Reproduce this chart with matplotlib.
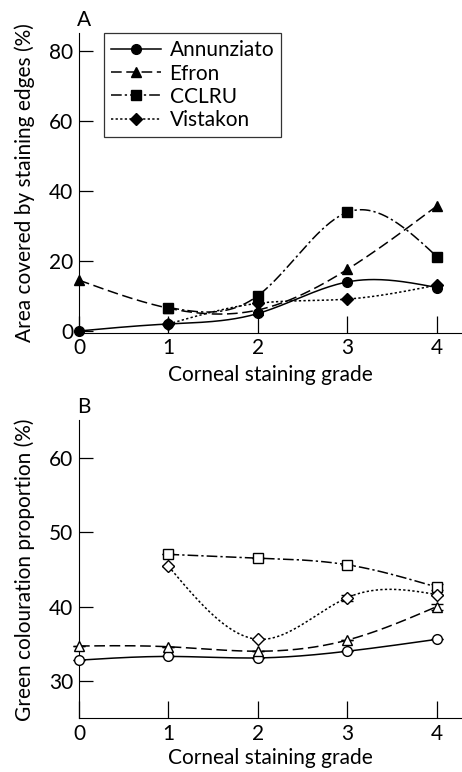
import matplotlib
matplotlib.use('Agg')
import matplotlib.pyplot as plt
import numpy as np

plt.rcParams['font.family'] = ['Lato', 'DejaVu Sans']

grades = [0, 1, 2, 3, 4]
series = ['Annunziato', 'Efron', 'CCLRU', 'Vistakon']

# panel A: area covered by staining edges (%)
area_x = {'Annunziato': [0, 1, 2, 3, 4],
          'Efron': [0, 1, 2, 3, 4],
          'CCLRU': [1, 2, 3, 4],
          'Vistakon': [1, 2, 3, 4]}
area_y = {'Annunziato': [0.0, 2.0, 5.0, 14.0, 12.4],
          'Efron': [14.5, 6.5, 6.0, 17.6, 35.7],
          'CCLRU': [6.7, 10.1, 33.9, 21.2],
          'Vistakon': [2.0, 7.9, 9.1, 13.1]}

# panel B: green colouration proportion (%)
green_x = area_x
green_y = {'Annunziato': [32.8, 33.3, 33.1, 34.0, 35.6],
           'Efron': [34.7, 34.6, 34.0, 35.5, 40.0],
           'CCLRU': [47.0, 46.5, 45.6, 42.6],
           'Vistakon': [45.4, 35.6, 41.2, 41.6]}
green_err = {'Annunziato': [0, 0, 0, 0, 0],
             'Efron': [0, 0, 0, 0, 0.4],
             'CCLRU': [0, 0, 0, 0.4],
             'Vistakon': [0, 0, 0.4, 0]}

markers = {'Annunziato': 'o', 'Efron': '^', 'CCLRU': 's', 'Vistakon': 'D'}
styles = {'Annunziato': '-', 'Efron': (0, (7, 3)), 'CCLRU': (0, (7, 2, 1.5, 2)),
          'Vistakon': (0, (1.5, 1.5))}
msizes = {'Annunziato': 7, 'Efron': 7.5, 'CCLRU': 6.5, 'Vistakon': 6}


def spline(x, y, n=200):
    # natural cubic spline through the points, only used to draw smooth lines
    x = np.asarray(x, float)
    y = np.asarray(y, float)
    m = len(x)
    h = np.diff(x)
    A = np.zeros((m, m))
    r = np.zeros(m)
    A[0, 0] = A[-1, -1] = 1
    for i in range(1, m - 1):
        A[i, i - 1] = h[i - 1]
        A[i, i] = 2 * (h[i - 1] + h[i])
        A[i, i + 1] = h[i]
        r[i] = 6 * ((y[i + 1] - y[i]) / h[i] - (y[i] - y[i - 1]) / h[i - 1])
    M = np.linalg.solve(A, r)
    xs = np.linspace(x[0], x[-1], n)
    k = np.clip(np.searchsorted(x, xs) - 1, 0, m - 2)
    t0 = x[k + 1] - xs
    t1 = xs - x[k]
    hk = h[k]
    ys = (M[k] * t0 ** 3 + M[k + 1] * t1 ** 3) / (6 * hk) \
        + (y[k] / hk - M[k] * hk / 6) * t0 + (y[k + 1] / hk - M[k + 1] * hk / 6) * t1
    return xs, ys


def style_axes(ax, ylim, yticks, xpad):
    ax.set_xlim(0, 4.28)
    ax.set_ylim(*ylim)
    ax.spines['top'].set_visible(False)
    ax.spines['right'].set_visible(False)
    ax.set_xticks(grades)
    ax.set_yticks(yticks)
    ax.tick_params(axis='x', direction='in', length=12, width=0.9, labelsize=15, pad=4)
    ax.tick_params(axis='y', direction='in', length=10, width=0.9, labelsize=15, pad=4)
    ax.set_xlabel('Corneal staining grade', fontsize=15, labelpad=xpad)


fig = plt.figure(figsize=(4.62, 7.72), dpi=100)
ax1 = fig.add_axes([0.171, 0.569, 0.829, 0.388])
ax2 = fig.add_axes([0.171, 0.0696, 0.829, 0.386])

for s in series:
    xs, ys = spline(area_x[s], area_y[s])
    ax1.plot(xs, ys, color='black', lw=1.1, ls=styles[s])
    ax1.plot(area_x[s], area_y[s], ls='none', marker=markers[s], ms=msizes[s],
             color='black', clip_on=False, zorder=3)
    ax1.plot([], [], color='black', lw=1.1, ls=styles[s], marker=markers[s],
             ms=msizes[s], label=s)

style_axes(ax1, (-0.5, 85), [0, 20, 40, 60, 80], 5)
ax1.set_ylabel('Area covered by staining edges (%)', fontsize=15, labelpad=10)
leg = ax1.legend(loc='upper left', bbox_to_anchor=(0.065, 1.0), fontsize=15,
                 handlelength=2.4, frameon=True, fancybox=False, borderpad=0.35,
                 labelspacing=0.15, handletextpad=0.4, borderaxespad=0)
leg.get_frame().set_edgecolor('black')
leg.get_frame().set_linewidth(0.9)
ax1.text(-0.005, 1.01, 'A', transform=ax1.transAxes, fontsize=15, va='bottom')

for s in series:
    xs, ys = spline(green_x[s], green_y[s])
    ax2.plot(xs, ys, color='black', lw=1.1, ls=styles[s])
    ax2.errorbar(green_x[s], green_y[s], yerr=green_err[s], ls='none',
                 marker=markers[s], ms=msizes[s], mfc='white', mec='black',
                 mew=1.0, ecolor='black', elinewidth=0.9, capsize=4.5,
                 clip_on=False, zorder=3)

style_axes(ax2, (25, 65), [30, 40, 50, 60], 3)
ax2.set_ylabel('Green colouration proportion (%)', fontsize=15, labelpad=10)
ax2.text(-0.005, 1.01, 'B', transform=ax2.transAxes, fontsize=15, va='bottom')

fig.savefig('out.png', dpi=100)
